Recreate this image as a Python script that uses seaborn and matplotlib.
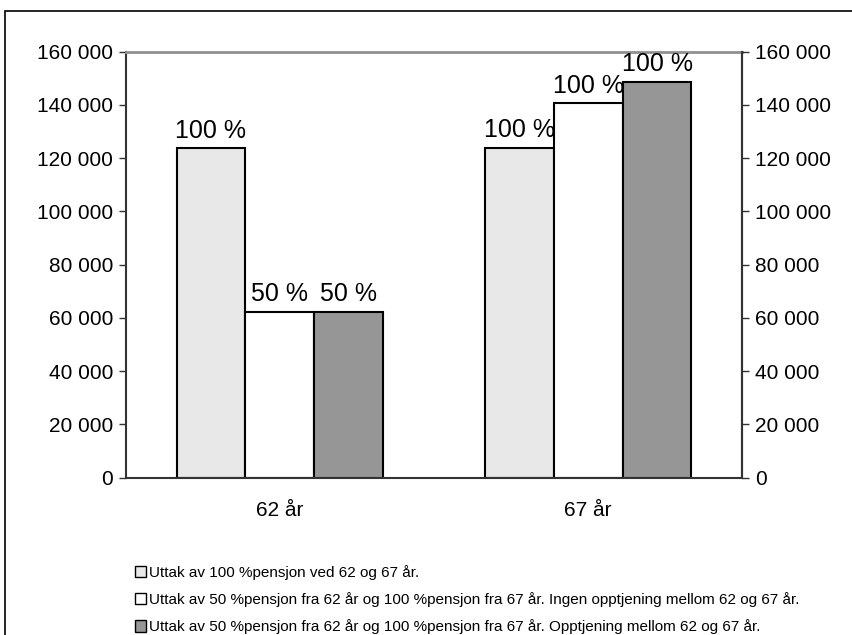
import matplotlib
matplotlib.use("Agg")
import matplotlib.pyplot as plt
import matplotlib.patches as mpatches
from matplotlib.ticker import FuncFormatter
import seaborn as sns
import pandas as pd

# ---- data ----
categories = ["62 år", "67 år"]
series_names = [
    "Uttak av 100 %pensjon ved 62 og 67 år.",
    "Uttak av 50 %pensjon fra 62 år og 100 %pensjon fra 67 år. Ingen opptjening mellom 62 og 67 år.",
    "Uttak av 50 %pensjon fra 62 år og 100 %pensjon fra 67 år. Opptjening mellom 62 og 67 år.",
]
values_s1 = [123800, 124000]
values_s2 = [62400, 140600]
values_s3 = [62400, 148700]
labels_s1 = ["100 %", "100 %"]
labels_s2 = ["50 %", "100 %"]
labels_s3 = ["50 %", "100 %"]
yticks = [0, 20000, 40000, 60000, 80000, 100000, 120000, 140000, 160000]

colors = ["#E8E8E8", "#FFFFFF", "#969696"]

rows = []
for name, vals in zip(series_names, [values_s1, values_s2, values_s3]):
    for c, v in zip(categories, vals):
        rows.append({"kategori": c, "serie": name, "verdi": v})
df = pd.DataFrame(rows)

sns.set_style("white")
plt.rcParams["font.family"] = ["Liberation Sans", "DejaVu Sans"]
plt.rcParams["text.color"] = "black"
plt.rcParams["xtick.color"] = "black"
plt.rcParams["ytick.color"] = "black"
plt.rcParams["axes.labelcolor"] = "black"

fig = plt.figure(figsize=(8.52, 6.35), dpi=100)
ax = fig.add_axes([125.7 / 852, 1 - 477.7 / 635, (742.3 - 125.7) / 852, (477.7 - 51.7) / 635])

sns.barplot(data=df, x="kategori", y="verdi", hue="serie", hue_order=series_names,
            palette=colors, edgecolor="black", linewidth=1.5, width=0.67,
            saturation=1, ax=ax, legend=False)

ax.set_ylim(0, 160000)
ax.set_xlim(-0.5, 1.5)
ax.set_yticks(yticks)
fmt = FuncFormatter(lambda v, p: f"{int(v):,}".replace(",", " "))
ax.yaxis.set_major_formatter(fmt)
ax.set_xlabel("")
ax.set_ylabel("")
ax.tick_params(axis="y", which="major", length=5, width=1, color="#333333",
               labelcolor="black", direction="out", left=True, labelsize=15, pad=4)
ax.tick_params(axis="x", length=0, labelsize=15, pad=17, labelcolor="black")

for side in ["left", "bottom", "right"]:
    ax.spines[side].set_color("#333333")
    ax.spines[side].set_linewidth(1.5)
ax.spines["top"].set_color("#909090")
ax.spines["top"].set_linewidth(2)

ax2 = ax.twinx()
ax2.set_ylim(0, 160000)
ax2.set_yticks(yticks)
ax2.yaxis.set_major_formatter(fmt)
ax2.tick_params(axis="y", length=5, width=1, color="#333333", labelcolor="black",
                direction="out", labelsize=15, pad=4)
for side in ["left", "bottom", "top"]:
    ax2.spines[side].set_visible(False)
ax2.spines["right"].set_color("#333333")
ax2.spines["right"].set_linewidth(1.5)

for cont, labs in zip(ax.containers, [labels_s1, labels_s2, labels_s3]):
    ax.bar_label(cont, labels=labs, padding=4, fontsize=18, color="black")

# figure border (left and top visible)
border = mpatches.Rectangle((5 / 852, -0.1), 1.2, 1 - 11 / 635 + 0.1,
                            transform=fig.transFigure, fill=False,
                            edgecolor="black", linewidth=1.2)
fig.patches.append(border)

handles = [mpatches.Patch(facecolor=c, edgecolor="black", linewidth=1) for c in colors]
fig.legend(handles, series_names, loc="upper left",
           bbox_to_anchor=(135 / 852, 1 - 565 / 635), frameon=False,
           prop={"family": ["Liberation Sans Narrow", "Liberation Sans"], "size": 11},
           handlelength=0.75, handleheight=0.75, handletextpad=0.15,
           labelspacing=0.8, borderpad=0, borderaxespad=0)

fig.savefig("out.png", dpi=100)
